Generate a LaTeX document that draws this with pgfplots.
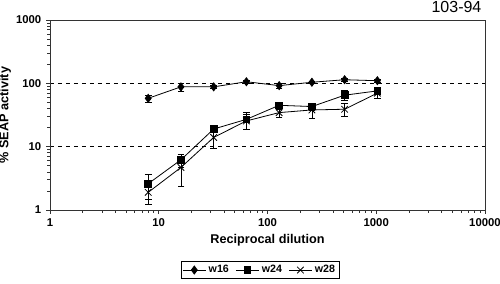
\documentclass[border=0pt]{standalone}
\usepackage{pgfplots}
\pgfplotsset{compat=1.18}
\usepackage{fontspec}
\setmainfont{Liberation Sans}
\begin{document}
\begin{tikzpicture}
\path[use as bounding box] (-37.5pt,-55.5pt) rectangle (337.5pt,157.5pt);
\begin{axis}[
  at={(0,0)}, anchor=south west,
  scale only axis, width=326.25pt, height=142.5pt,
  clip=false,
  xmode=log, ymode=log,
  xmin=1, xmax=10000, ymin=1, ymax=1000,
  xtick={1,10,100,1000,10000},
  xticklabels={\textbf{1},\textbf{10},\textbf{100},\textbf{1000},\textbf{10000}},
  minor xtick={2,3,4,5,6,7,8,9,20,30,40,50,60,70,80,90,200,300,400,500,600,700,800,900,2000,3000,4000,5000,6000,7000,8000,9000},
  ytick={1,10,100,1000},
  yticklabels={\textbf{1},\textbf{10},\textbf{100},\textbf{1000}},
  minor ytick={2,3,4,5,6,7,8,9,20,30,40,50,60,70,80,90,200,300,400,500,600,700,800,900},
  tick label style={font=\fontsize{8.5}{10}\selectfont\bfseries},
  tick align=outside, tick pos=left,
  major tick length=3pt, minor tick length=2pt,
  axis line style={black!80, line width=0.6pt},
  every tick/.style={black!80, line width=0.5pt},
  ymajorgrids, major grid style={dashed, black, line width=0.5pt},
  xlabel={\textbf{Reciprocal dilution}},
  ylabel={\textbf{\% SEAP activity}},
  label style={font=\fontsize{9.5}{11}\selectfont\bfseries},
  xlabel style={yshift=1pt},
  ylabel style={yshift=-3pt},
  legend columns=3,
  legend style={at={(0.483,-0.316)}, anchor=center, draw=black, line width=0.6pt,
    font=\fontsize{8}{9}\selectfont\bfseries, inner sep=1pt,
    /tikz/every even column/.append style={column sep=3pt}},
  legend image post style={line width=0.6pt},
  error bars/error bar style={black, line width=0.5pt},
  error bars/error mark options={rotate=90, mark size=2.5pt, black, line width=0.5pt},
]
\addplot[black, line width=0.6pt, mark=diamond*, mark size=3pt, mark options={fill=black, solid},
  error bars/.cd, y dir=both, y explicit] coordinates {
  (8,58) +- (0,7)
  (16,88) +- (0,12)
  (32,88) +- (0,5)
  (64,106) +- (0,5)
  (128,92) +- (0,8)
  (256,104) +- (0,5)
  (512,114) +- (0,5)
  (1024,110) +- (0,6)
};
\addlegendentry{w16}
\addplot[black, line width=0.6pt, mark=square*, mark size=2.5pt, mark options={fill=black, solid},
  error bars/.cd, y dir=both, y explicit] coordinates {
  (8,2.6) +- (0,1.1)
  (16,6.2) +- (0,1.4)
  (32,19) +- (0,2)
  (64,27) +- (0,8)
  (128,45) +- (0,5)
  (256,43) +- (0,5)
  (512,65) +- (0,12)
  (1024,76) +- (0,10)
};
\addlegendentry{w24}
\addplot[black, line width=0.6pt, mark=x, mark size=3.5pt, mark options={solid},
  error bars/.cd, y dir=both, y explicit] coordinates {
  (8,1.9) +- (0,0.65)
  (16,4.7) +- (0,2.3)
  (32,14) +- (0,4.6)
  (64,25.5) +- (0,7)
  (128,34.5) +- (0,5)
  (256,38) +- (0,10)
  (512,39) +- (0,9)
  (1024,70) +- (0,13)
};
\addlegendentry{w28}
\node[anchor=south east, font=\fontsize{12}{14}\selectfont, inner sep=0pt]
  at (rel axis cs:1,1) [xshift=-2.5pt, yshift=5pt] {103-94};
\end{axis}
\end{tikzpicture}
\end{document}
